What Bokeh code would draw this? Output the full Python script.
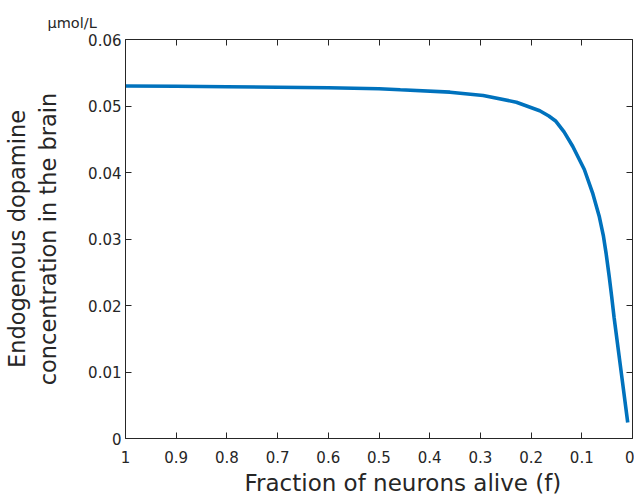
from bokeh.plotting import figure
from bokeh.models import Range1d, FixedTicker, LinearAxis, Title
from bokeh.embed import file_html
from bokeh.resources import INLINE

# data
fraction_alive = [1.0, 0.9, 0.8, 0.7, 0.6, 0.5, 0.458, 0.36, 0.2945, 0.229, 0.183,
                  0.165, 0.151, 0.135, 0.118, 0.095, 0.0788, 0.0657, 0.0573, 0.052,
                  0.046, 0.041, 0.0363, 0.0196, 0.0094]
dopamine = [0.0530, 0.05296, 0.05290, 0.05283, 0.05274, 0.0526, 0.05244, 0.05208,
            0.05158, 0.05057, 0.04928, 0.0485, 0.0477, 0.0461, 0.04395, 0.04045,
            0.03695, 0.03343, 0.03042, 0.0278, 0.0244, 0.0213, 0.0182, 0.0084, 0.0024]

x_ticks = [0.0, 0.1, 0.2, 0.3, 0.4, 0.5, 0.6, 0.7, 0.8, 0.9, 1.0]
x_tick_labels = ["0", "0.1", "0.2", "0.3", "0.4", "0.5", "0.6", "0.7", "0.8", "0.9", "1"]
y_ticks = [0.0, 0.01, 0.02, 0.03, 0.04, 0.05, 0.06]
y_tick_labels = ["0", "0.01", "0.02", "0.03", "0.04", "0.05", "0.06"]

FONT = "DejaVu Sans"
TXT = "#262626"
AX = "#262626"

p = figure(width=634, height=498, output_backend="svg", toolbar_location=None,
           x_range=Range1d(1, 0), y_range=Range1d(0, 0.06),
           min_border_left=122, min_border_right=2, min_border_top=39, min_border_bottom=60)
p.outline_line_color = None
p.xgrid.visible = False
p.ygrid.visible = False
p.background_fill_color = "white"
p.border_fill_color = "white"

p.line(fraction_alive, dopamine, line_color="#0072BD", line_width=3.6)

def style(ax, labels, ticks, show_labels=True):
    ax.ticker = FixedTicker(ticks=ticks)
    if show_labels:
        ax.major_label_overrides = {t: l for t, l in zip(ticks, labels)}
    else:
        ax.major_label_overrides = {t: "" for t in ticks}
        ax.major_label_standoff = 0
    ax.major_tick_in = 6
    ax.major_tick_out = 0
    ax.minor_tick_in = 0
    ax.minor_tick_out = 0
    ax.axis_line_color = AX
    ax.major_tick_line_color = AX
    ax.axis_line_width = 1
    ax.major_label_text_font = FONT
    ax.major_label_text_font_size = "15px"
    ax.major_label_text_color = TXT
    ax.axis_label_text_font = FONT
    ax.axis_label_text_font_style = "normal"
    ax.axis_label_text_color = TXT
    ax.axis_label_text_font_size = "22.5px"

xa = p.xaxis[0]
style(xa, x_tick_labels, x_ticks)
xa.major_label_standoff = 12

ya = p.yaxis[0]
style(ya, y_tick_labels, y_ticks)
ya.axis_label = "Endogenous dopamine\nconcentration in the brain"
ya.major_label_standoff = 4
ya.axis_label_standoff = 24

top = LinearAxis()
style(top, x_tick_labels, x_ticks, show_labels=False)
p.add_layout(top, "above")
right = LinearAxis()
style(right, y_tick_labels, y_ticks, show_labels=False)
p.add_layout(right, "right")

xlabel = Title(text="Fraction of neurons alive (f)", align="left", offset=119,
               text_font=FONT, text_font_size="23px", text_font_style="normal",
               text_color=TXT, standoff=5)
p.add_layout(xlabel, "below")

unit = Title(text="μmol/L", align="left", offset=-78, text_font=FONT,
             text_font_size="14.5px", text_font_style="normal", text_color=TXT,
             standoff=17)
p.add_layout(unit, "above")

open("out.html", "w").write(file_html(p, INLINE))
